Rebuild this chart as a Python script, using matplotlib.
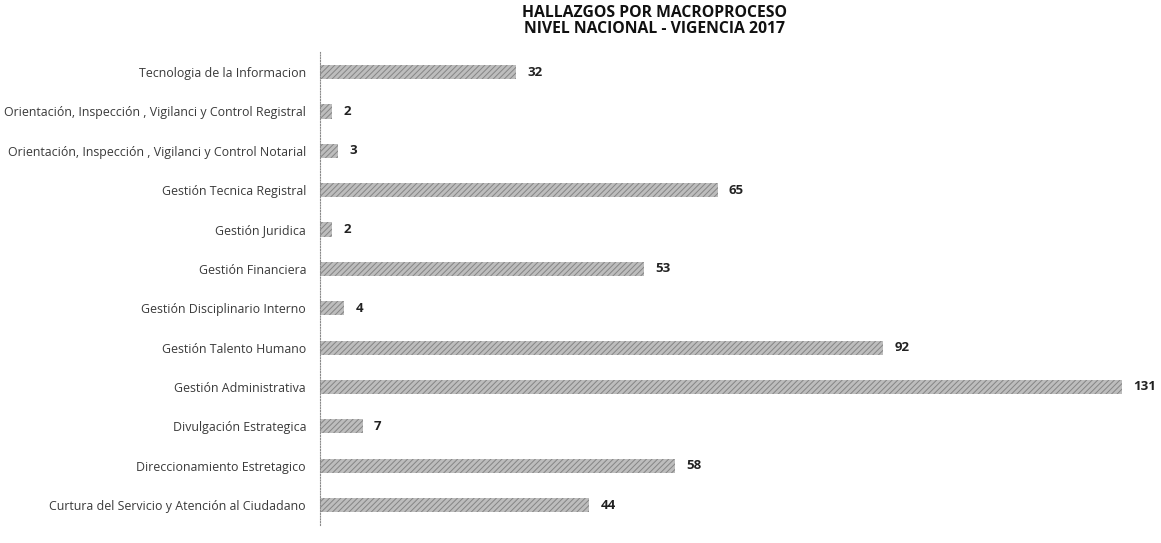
import matplotlib
matplotlib.use("Agg")
import matplotlib.pyplot as plt

categories = [
    "Curtura del Servicio y Atención al Ciudadano",
    "Direccionamiento Estretagico",
    "Divulgación Estrategica",
    "Gestión Administrativa",
    "Gestión Talento Humano",
    "Gestión Disciplinario Interno",
    "Gestión Financiera",
    "Gestión Juridica",
    "Gestión Tecnica Registral",
    "Orientación, Inspección , Vigilanci y Control Notarial",
    "Orientación, Inspección , Vigilanci y Control Registral",
    "Tecnologia de la Informacion",
]
values = [44, 58, 7, 131, 92, 4, 53, 2, 65, 3, 2, 32]

title = "HALLAZGOS POR MACROPROCESO\nNIVEL NACIONAL - VIGENCIA 2017"

plt.rcParams['font.family'] = ['Open Sans', 'DejaVu Sans']
plt.rcParams['hatch.linewidth'] = 0.7

fig = plt.figure(figsize=(11.61, 5.43), dpi=100)
ax = fig.add_axes([320/1161, 0.0337, (1161-320)/1161, 0.8698])

ypos = list(range(len(categories)))
ax.barh(ypos, values, height=0.36, color='#bdbdbd', hatch='//////',
        edgecolor='#858585', linewidth=0)

for y, v in zip(ypos, values):
    ax.annotate(str(v), xy=(v, y), xytext=(8, 0), textcoords='offset points',
                ha='left', va='center', fontsize=9.5, fontweight='bold', color='#222222')

ax.set_xlim(0, (1161-320)/6.12)
ax.set_ylim(-0.5, len(categories) - 0.5)
ax.set_yticks(ypos)
ax.set_yticklabels(categories, fontsize=8.9, color='#3a3a3a')
ax.tick_params(axis='y', length=0, pad=10)
ax.set_xticks([])
for s in ['top', 'right', 'bottom']:
    ax.spines[s].set_visible(False)
ax.spines['left'].set_linestyle((0, (1, 1.5)))
ax.spines['left'].set_color('#8a8a8a')
ax.spines['left'].set_linewidth(0.8)

fig.text(655/1161, 1 - 21/543, title, ha='center', va='center', fontsize=11.3,
         fontweight='bold', color='#111111', linespacing=1.05)

fig.savefig("out.png", dpi=100, facecolor='white')
